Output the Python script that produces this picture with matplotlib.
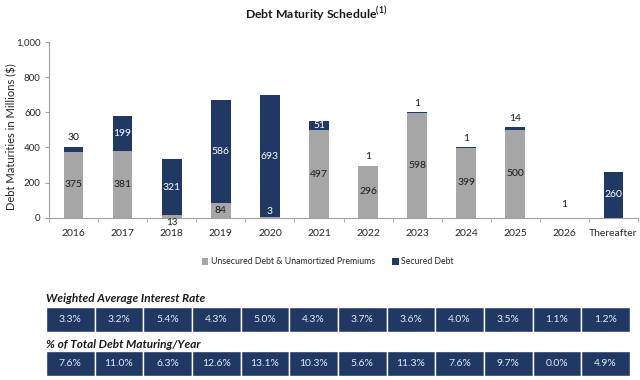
import numpy as np
import matplotlib
matplotlib.use('Agg')
import matplotlib.pyplot as plt

plt.rcParams['font.family'] = ['Lato', 'DejaVu Sans']

# data
years = ['2016', '2017', '2018', '2019', '2020', '2021', '2022', '2023',
         '2024', '2025', '2026', 'Thereafter']
unsecured = [375, 381, 13, 84, 3, 497, 296, 598, 399, 500, 0, 0]
secured = [30, 199, 321, 586, 693, 51, 1, 1, 1, 14, 1, 260]
interest_rate = ['3.3%', '3.2%', '5.4%', '4.3%', '5.0%', '4.3%', '3.7%',
                 '3.6%', '4.0%', '3.5%', '1.1%', '1.2%']
pct_total = ['7.6%', '11.0%', '6.3%', '12.6%', '13.1%', '10.3%', '5.6%',
             '11.3%', '7.6%', '9.7%', '0.0%', '4.9%']
y_ticks = [0, 200, 400, 600, 800, 1000]

# where each value label sits (style only)
unsec_where = ['mid', 'mid', 'below', 'mid', 'base', 'mid', 'mid', 'mid',
               'mid', 'mid', None, None]
sec_where = ['above', 'mid', 'mid', 'mid', 'mid', 'mid', 'above', 'above',
             'above', 'above', 'float', 'mid']

navy = '#1f3864'
gray = '#a6a6a6'
W, H = 640, 380

fig = plt.figure(figsize=(6.4, 3.8), dpi=100)

def px_axes(x0, y0, x1, y1):
    # axes from pixel box (top-left origin)
    return fig.add_axes([x0 / W, 1 - y1 / H, (x1 - x0) / W, (y1 - y0) / H])

ax = px_axes(49, 42, 638, 217.7)
x = np.arange(len(years))
ax.bar(x, unsecured, width=0.4, color=gray, label='Unsecured Debt & Unamortized Premiums')
ax.bar(x, secured, width=0.4, bottom=unsecured, color=navy, label='Secured Debt')

ax.set_xlim(-0.5, len(years) - 0.5)
ax.set_ylim(0, 1000)
ax.set_yticks(y_ticks)
ax.set_yticklabels(['{:,}'.format(v) for v in y_ticks])
ax.set_xticks(x)
ax.set_xticklabels(years)
ax.set_xticks(np.arange(len(years) + 1) - 0.5, minor=True)
ax.tick_params(axis='x', which='major', length=0, pad=8, labelsize=7.5, colors='#262626')
ax.tick_params(axis='x', which='minor', length=3, color='#a0a0a0')
ax.tick_params(axis='y', length=3, color='#a0a0a0', labelsize=7, labelcolor='#262626', pad=3)
for s in ['top', 'right']:
    ax.spines[s].set_visible(False)
for s in ['left', 'bottom']:
    ax.spines[s].set_color('#a0a0a0')
    ax.spines[s].set_linewidth(0.8)
ax.set_ylabel('Debt Maturities in Millions ($)', fontsize=8, color='#262626')
ax.yaxis.set_label_coords(-0.053, 0.46)

fs = 7.5
for i in range(len(years)):
    u, s = unsecured[i], secured[i]
    top = u + s
    w = unsec_where[i]
    if w == 'mid':
        ax.text(i, u / 2, str(u), ha='center', va='center', fontsize=fs, color='#1a1a1a')
    elif w == 'below':
        ax.annotate(str(u), (i, 0), xytext=(0, 0), textcoords='offset points',
                    ha='center', va='top', fontsize=7, color='#1a1a1a')
    elif w == 'base':
        ax.annotate(str(u), (i, 0), xytext=(0, 1.5), textcoords='offset points',
                    ha='center', va='bottom', fontsize=fs, color='white')
    w = sec_where[i]
    if w == 'mid':
        ax.text(i, u + s / 2, str(s), ha='center', va='center', fontsize=fs, color='white')
    elif w == 'above':
        ax.annotate(str(s), (i, top), xytext=(0, 3), textcoords='offset points',
                    ha='center', va='bottom', fontsize=fs, color='#1a1a1a')
    elif w == 'float':
        ax.annotate(str(s), (i, 0), xytext=(0, 6), textcoords='offset points',
                    ha='center', va='bottom', fontsize=fs, color='#1a1a1a')

fig.text(316 / W, 1 - 14 / H, r'Debt Maturity Schedule$^{\mathregular{(1)}}$',
         ha='center', va='center', fontsize=8.8, fontweight='bold', color='#1a1a1a')

leg = fig.legend(loc='center', bbox_to_anchor=(328 / W, 1 - 262 / H), ncol=2,
                 frameon=False, fontsize=6.3, handlelength=0.7, handleheight=0.7,
                 handletextpad=0.3, columnspacing=2.0)
for t in leg.get_texts():
    t.set_color('#262626')

# table rows
rows = [(interest_rate, 'Weighted Average Interest Rate', 299, 307, 332),
        (pct_total, '% of Total Debt Maturing/Year', 344, 351, 376)]
for vals, head, hy, y0, y1 in rows:
    fig.text(46 / W, 1 - hy / H, head, ha='left', va='center', fontsize=8.5,
             fontweight='bold', fontstyle='italic', color='#1a1a1a')
    tax = px_axes(46, y0, 630, y1)
    tx = np.arange(len(vals))
    tax.bar(tx, [1] * len(vals), width=1, color=navy, edgecolor='white', linewidth=1)
    tax.set_xlim(-0.5, len(vals) - 0.5)
    tax.set_ylim(0, 1)
    tax.axis('off')
    for j, v in enumerate(vals):
        tax.text(j, 0.5, v, ha='center', va='center', fontsize=7.5, color='#e6ecf5')

fig.savefig('out.png', dpi=100)
